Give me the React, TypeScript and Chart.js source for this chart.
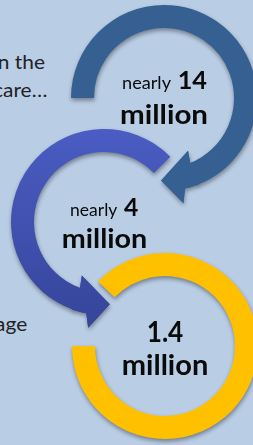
import React, { useEffect, useRef } from 'react';
import { Chart, registerables } from 'chart.js';

Chart.register(...registerables);

// ---- data ----
const prefixes = ['nearly', 'nearly', ''];
const amounts = ['14', '4', '1.4'];
const units = ['million', 'million', 'million'];
const arcStartDeg = [180, 109, 224]; // canvas angle where each ring's drawn arc begins
const arcSpanDeg = [249, 206.5, 316]; // degrees of each ring that is drawn
const arrowDir = [1, -1, 0]; // 1: head at arc end, -1: head at arc start, 0: none
const sideTexts = ['n the', 'care\u2026', 'age'];

// ---- layout / style ----
const W = 253;
const H = 445;
const BG = '#b9cde5';
const CANVAS = 240;
const R_OUT = 93;
const R_IN = 70;
const FONT = 'Lato, "Open Sans", sans-serif';
const ringCenters = [
  [164, 98],
  [104, 222],
  [165, 346],
];
const ringColors = ['#366092', 'gradient', '#ffc000'];
const blueTop = '#4b5cc3';
const blueBottom = '#35459a';

type Part = { dx: number; dy: number; w: number; size: number } | null;
const textLayout: { pre: Part; amt: Part; unit: Part }[] = [
  {
    pre: { dx: -42, dy: -9, w: 49, size: 17.5 },
    amt: { dx: 13.7, dy: -9, w: 29.3, size: 25 },
    unit: { dx: -44, dy: 26, w: 88, size: 27 },
  },
  {
    pre: { dx: -34, dy: -6, w: 47.3, size: 17.5 },
    amt: { dx: 20, dy: -6, w: 14.3, size: 25 },
    unit: { dx: -42.3, dy: 26.3, w: 85.6, size: 27 },
  },
  {
    pre: null,
    amt: { dx: -18.3, dy: -4.3, w: 36.6, size: 28 },
    unit: { dx: -43.3, dy: 29, w: 86.6, size: 28 },
  },
];
const sideLayout = [
  { right: 45, baseline: 69.3 },
  { right: 47, baseline: 96.7 },
  { right: 26.7, baseline: 330.5 },
];
const SIDE_FS = 19;
const SIDE_SCALE = 1.1;

function ringFill(chart: any, i: number) {
  if (ringColors[i] !== 'gradient') return ringColors[i];
  const ctx = chart.ctx as CanvasRenderingContext2D;
  const cy = CANVAS / 2;
  const g = ctx.createLinearGradient(0, cy - R_OUT, 0, cy + R_OUT + 14);
  g.addColorStop(0, blueTop);
  g.addColorStop(1, blueBottom);
  return g;
}

function applyShadow(ctx: CanvasRenderingContext2D) {
  ctx.shadowColor = 'rgba(0,0,0,0.38)';
  ctx.shadowBlur = 4;
  ctx.shadowOffsetX = 0.5;
  ctx.shadowOffsetY = 2.5;
}

function drawArrow(chart: any, i: number) {
  const d = arrowDir[i];
  if (!d) return;
  const ctx = chart.ctx as CanvasRenderingContext2D;
  const arc: any = chart.getDatasetMeta(0).data[0];
  const { x, y, startAngle, endAngle, innerRadius: ri, outerRadius: ro } = arc;
  const rad = Math.PI / 180;
  const a0 = d > 0 ? endAngle : startAngle;
  const pt = (a: number, r: number): [number, number] => [x + r * Math.cos(a), y + r * Math.sin(a)];
  const back = a0 - d * 1 * rad;
  ctx.beginPath();
  ctx.moveTo(...pt(back, ri));
  ctx.lineTo(...pt(back, ro));
  ctx.arc(x, y, ro, back, a0 + d * 8 * rad, d < 0);
  ctx.lineTo(...pt(a0 + d * 10.5 * rad, ro + 14));
  ctx.lineTo(...pt(a0 + d * 23 * rad, (ro + ri) / 2 + 1));
  ctx.lineTo(...pt(a0 - d * 3.5 * rad, ri - 12));
  ctx.closePath();
  ctx.fillStyle = ringFill(chart, i) as any;
  ctx.fill();
}

function fitText(
  ctx: CanvasRenderingContext2D,
  text: string,
  x: number,
  baseline: number,
  width: number,
  size: number,
  weight: number
) {
  if (!text) return;
  ctx.save();
  ctx.font = `${weight} ${size}px ${FONT}`;
  const w = ctx.measureText(text).width || 1;
  ctx.translate(x, baseline);
  ctx.scale(width / w, 1);
  ctx.textAlign = 'left';
  ctx.textBaseline = 'alphabetic';
  ctx.fillStyle = '#0a0a0a';
  ctx.fillText(text, 0, 0);
  ctx.restore();
}

function drawCenterText(chart: any, i: number) {
  const ctx = chart.ctx as CanvasRenderingContext2D;
  const arc: any = chart.getDatasetMeta(0).data[0];
  const { x, y } = arc;
  const L = textLayout[i];
  if (L.pre) fitText(ctx, prefixes[i], x + L.pre.dx, y + L.pre.dy, L.pre.w, L.pre.size, 400);
  if (L.amt) fitText(ctx, amounts[i], x + L.amt.dx, y + L.amt.dy, L.amt.w, L.amt.size, 700);
  if (L.unit) fitText(ctx, units[i], x + L.unit.dx, y + L.unit.dy, L.unit.w, L.unit.size, 700);
}

function makePlugin(i: number) {
  return {
    id: 'ringDecor' + i,
    beforeDatasetsDraw(chart: any) {
      const ctx = chart.ctx as CanvasRenderingContext2D;
      ctx.save();
      applyShadow(ctx);
      drawArrow(chart, i);
      ctx.restore();
      ctx.save();
      applyShadow(ctx);
    },
    afterDatasetsDraw(chart: any) {
      const ctx = chart.ctx as CanvasRenderingContext2D;
      ctx.restore();
      drawArrow(chart, i);
      drawCenterText(chart, i);
    },
  };
}

function Ring({ index }: { index: number }) {
  const ref = useRef<HTMLCanvasElement>(null);
  useEffect(() => {
    const canvas = ref.current;
    if (!canvas) return;
    const span = arcSpanDeg[index];
    const chart = new Chart(canvas, {
      type: 'doughnut',
      data: {
        labels: [`${prefixes[index]} ${amounts[index]} ${units[index]}`.trim(), ''],
        datasets: [
          {
            data: [span, 360 - span],
            backgroundColor: (c: any) => (c.dataIndex === 0 ? ringFill(c.chart, index) : 'rgba(0,0,0,0)'),
            borderWidth: 0,
            hoverOffset: 0,
          } as any,
        ],
      },
      options: {
        responsive: false,
        maintainAspectRatio: false,
        animation: false,
        devicePixelRatio: 1,
        events: [],
        rotation: arcStartDeg[index] + 90,
        radius: R_OUT,
        cutout: `${(R_IN / R_OUT) * 100}%`,
        layout: { padding: 0 },
        plugins: { legend: { display: false }, tooltip: { enabled: false } },
      } as any,
      plugins: [makePlugin(index)],
    });
    return () => chart.destroy();
  }, [index]);
  const [cx, cy] = ringCenters[index];
  return (
    <canvas
      ref={ref}
      width={CANVAS}
      height={CANVAS}
      style={{
        position: 'absolute',
        left: cx - CANVAS / 2,
        top: cy - CANVAS / 2,
        width: CANVAS,
        height: CANVAS,
      }}
    />
  );
}

export default function App() {
  return (
    <div
      style={{
        position: 'fixed',
        left: 0,
        top: 0,
        width: W,
        height: H,
        overflow: 'hidden',
        background: BG,
      }}
    >
      {sideTexts.map((t, i) => (
        <div
          key={'s' + i}
          style={{
            position: 'absolute',
            right: W - sideLayout[i].right,
            top: sideLayout[i].baseline - 0.887 * SIDE_FS,
            fontFamily: FONT,
            fontSize: SIDE_FS,
            lineHeight: `${SIDE_FS}px`,
            whiteSpace: 'nowrap',
            color: '#222222',
            transform: `scaleX(${SIDE_SCALE})`,
            transformOrigin: 'right center',
          }}
        >
          {t}
        </div>
      ))}
      <Ring index={2} />
      <Ring index={1} />
      <Ring index={0} />
    </div>
  );
}
